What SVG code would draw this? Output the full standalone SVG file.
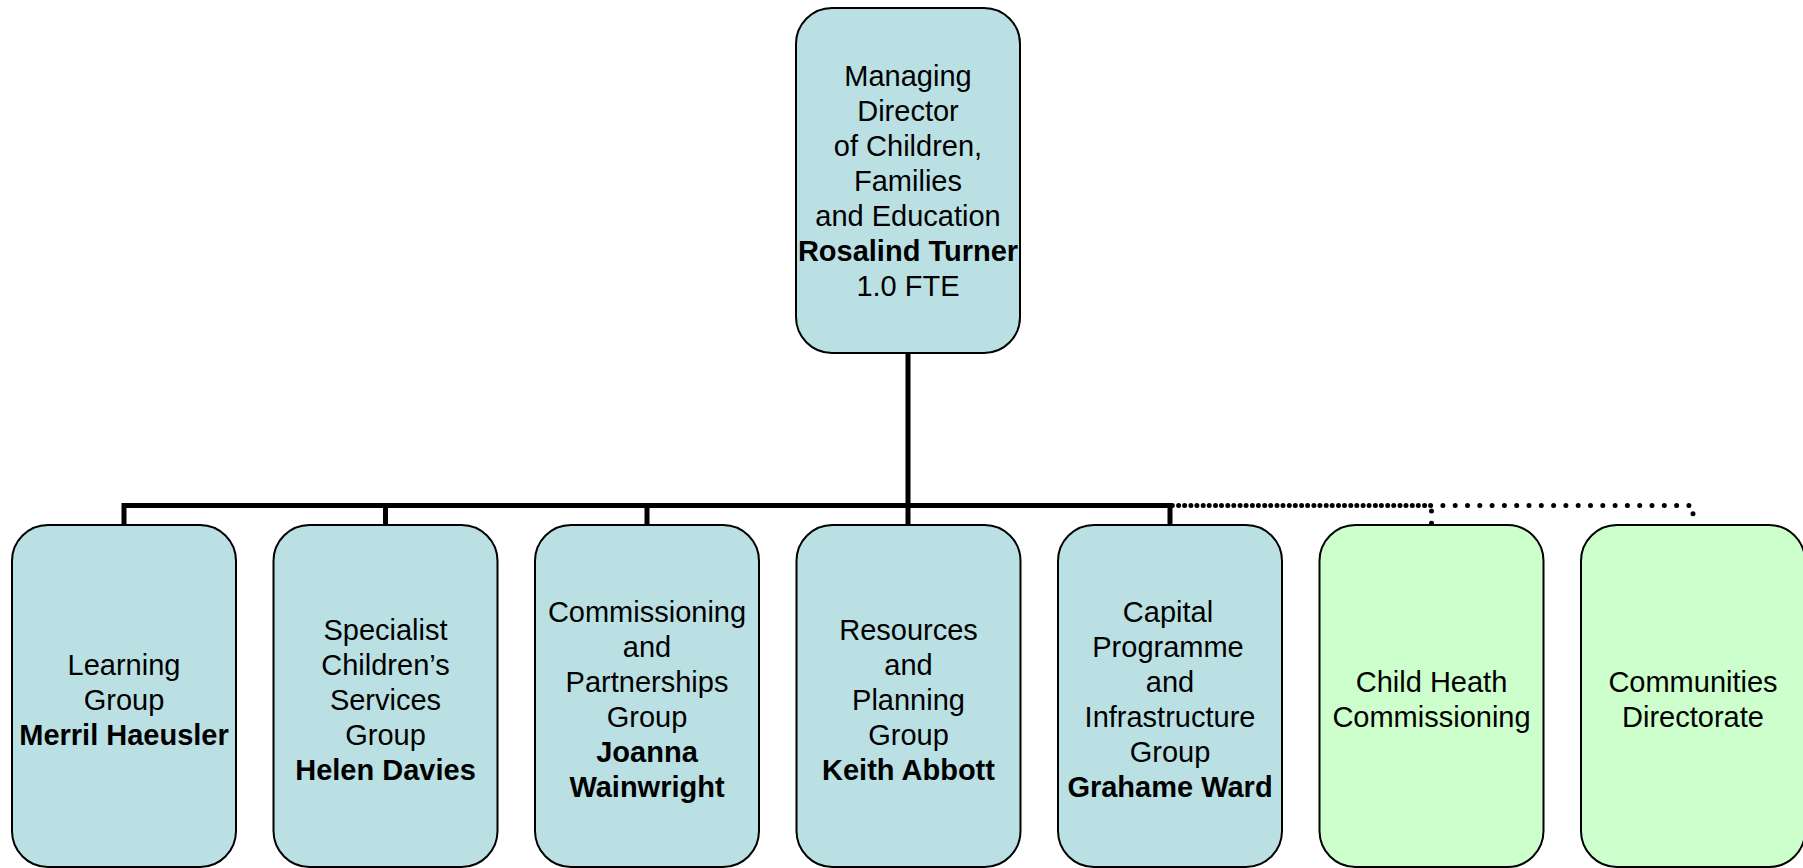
<svg xmlns="http://www.w3.org/2000/svg" width="1803" height="868" viewBox="0 0 1803 868">
<style>
.box{stroke:#000;stroke-width:2}
.blue{fill:#BAE0E3}
.green{fill:#CCFFCC}
text{font-family:"Liberation Sans",Arial,sans-serif;font-size:29px;fill:#000;text-anchor:middle}
.b{font-weight:bold}
.solid{fill:none;stroke:#000;stroke-width:5}
.dot{fill:none;stroke:#000;stroke-width:5;stroke-linecap:round;stroke-dasharray:0 12.3}
</style>
<rect width="1803" height="868" fill="#fff"/>
<g id="connectors">
<path class="solid" d="M908,353V505.5M124,525V505.5H1170V525M385.5,505.5V525M647,505.5V525M908,505.5V525"/>
<path class="dot" d="M908,505.5H1431.5V525"/>
<path class="dot" d="M914,505.5H1693V525"/>
</g>
<g id="n-md">
<rect class="box blue" x="796" y="8" width="224" height="345" rx="36"/>
<text x="908" y="86">Managing</text>
<text x="908" y="121">Director</text>
<text x="908" y="156">of Children,</text>
<text x="908" y="191">Families</text>
<text x="908" y="226">and Education</text>
<text x="908" y="261" class="b">Rosalind Turner</text>
<text x="908" y="296">1.0 FTE</text>
</g>
<g id="n-learning">
<rect class="box blue" x="12" y="525" width="224" height="342" rx="36"/>
<text x="124" y="675">Learning</text>
<text x="124" y="710">Group</text>
<text x="124" y="745" class="b">Merril Haeusler</text>
</g>
<g id="n-specialist">
<rect class="box blue" x="273.5" y="525" width="224" height="342" rx="36"/>
<text x="385.5" y="640">Specialist</text>
<text x="385.5" y="675">Children’s</text>
<text x="385.5" y="710">Services</text>
<text x="385.5" y="745">Group</text>
<text x="385.5" y="780" class="b">Helen Davies</text>
</g>
<g id="n-commissioning">
<rect class="box blue" x="535" y="525" width="224" height="342" rx="36"/>
<text x="647" y="622">Commissioning</text>
<text x="647" y="657">and</text>
<text x="647" y="692">Partnerships</text>
<text x="647" y="727">Group</text>
<text x="647" y="762" class="b">Joanna</text>
<text x="647" y="797" class="b">Wainwright</text>
</g>
<g id="n-resources">
<rect class="box blue" x="796.5" y="525" width="224" height="342" rx="36"/>
<text x="908.5" y="640">Resources</text>
<text x="908.5" y="675">and</text>
<text x="908.5" y="710">Planning</text>
<text x="908.5" y="745">Group</text>
<text x="908.5" y="780" class="b">Keith Abbott</text>
</g>
<g id="n-capital">
<rect class="box blue" x="1058" y="525" width="224" height="342" rx="36"/>
<text x="1168" y="622">Capital</text>
<text x="1168" y="657">Programme</text>
<text x="1170" y="692">and</text>
<text x="1170" y="727">Infrastructure</text>
<text x="1170" y="762">Group</text>
<text x="1170" y="797" class="b">Grahame Ward</text>
</g>
<g id="n-childhealth">
<rect class="box green" x="1319.5" y="525" width="224" height="342" rx="36"/>
<text x="1431.5" y="692">Child Heath</text>
<text x="1431.5" y="727">Commissioning</text>
</g>
<g id="n-communities">
<rect class="box green" x="1581" y="525" width="224" height="342" rx="36"/>
<text x="1693" y="692">Communities</text>
<text x="1693" y="727">Directorate</text>
</g>
</svg>
